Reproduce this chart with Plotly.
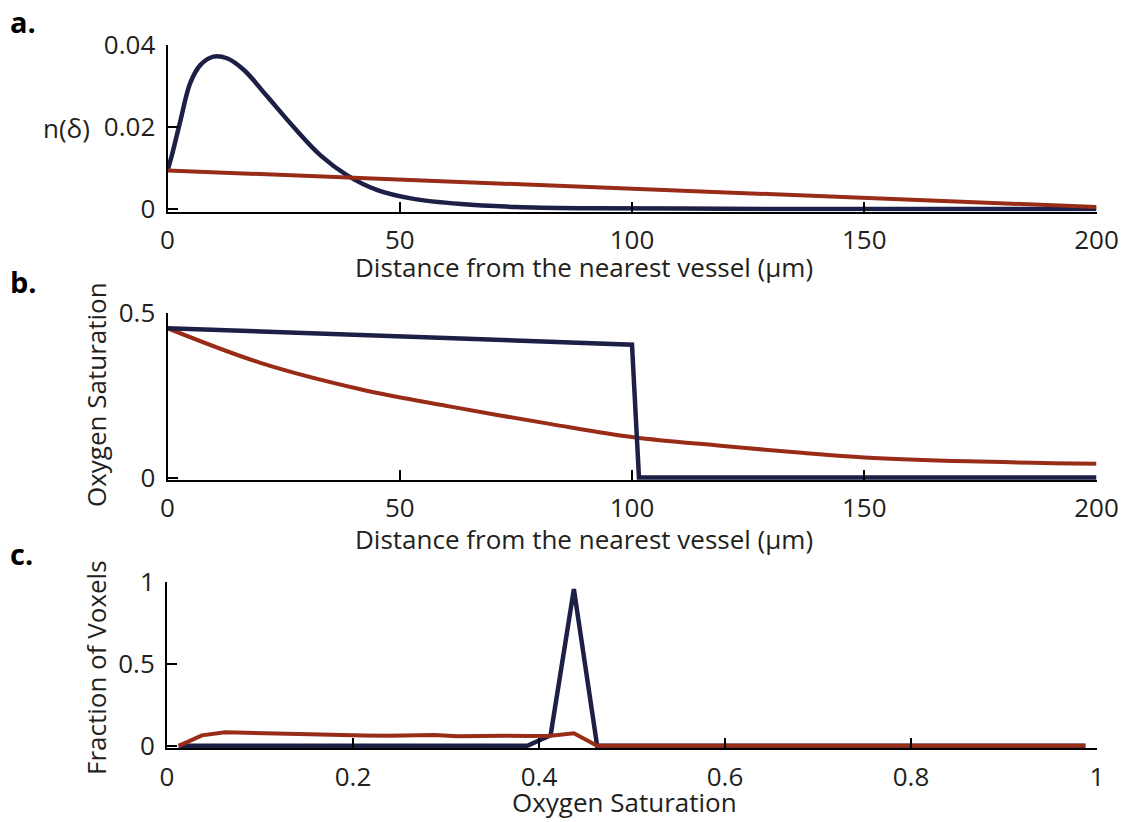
import plotly.graph_objects as go

# ---- panel a: distribution of distances to the nearest vessel ----
dist_a = [0, 0.8, 2.7, 4.9, 7.1, 9.9, 12.8, 16.4, 21.4, 27.2, 33.0, 38.7, 45.2,
          52.4, 63.2, 75, 90, 110, 140, 170, 200]
n_blue = [0.0094, 0.0125, 0.0211, 0.0307, 0.0351, 0.0371, 0.0367, 0.0339, 0.0275,
          0.0199, 0.0130, 0.0082, 0.0046, 0.0026, 0.0012, 0.0005, 0.0002, 0.0001,
          0.0, 0.0, 0.0]
dist_a_red = [0, 200]
n_red = [0.0094, 0.0005]

# ---- panel b: oxygen saturation vs distance ----
dist_b_blue = [0, 100, 101.5, 200]
so2_blue = [0.453, 0.403, 0.0, 0.0]
dist_b_red = [0, 20, 41.5, 61, 82.6, 100.4, 118.5, 136.5, 150, 172.5, 200]
so2_red = [0.453, 0.348, 0.268, 0.215, 0.162, 0.122, 0.097, 0.075, 0.061, 0.049, 0.042]

# ---- panel c: histogram of oxygen saturation (bin centres) ----
sat_bins = [0.0125, 0.0375, 0.0625, 0.0875, 0.1125, 0.1375, 0.1625, 0.1875,
            0.2125, 0.2375, 0.2625, 0.2875, 0.3125, 0.3375, 0.3625, 0.3875,
            0.4125, 0.4375, 0.4625, 0.4875, 0.5125, 0.5375, 0.5625, 0.5875,
            0.6125, 0.6375, 0.6625, 0.6875, 0.7125, 0.7375, 0.7625, 0.7875,
            0.8125, 0.8375, 0.8625, 0.8875, 0.9125, 0.9375, 0.9625, 0.9875]
frac_blue = [0, 0, 0, 0, 0, 0, 0, 0, 0, 0, 0, 0, 0, 0, 0, 0,
             0.065, 0.955, 0.0, 0, 0, 0, 0, 0, 0, 0, 0, 0, 0, 0, 0, 0,
             0, 0, 0, 0, 0, 0, 0, 0]
frac_red = [0.0, 0.064, 0.083, 0.080, 0.074, 0.068, 0.066, 0.064, 0.063, 0.062,
            0.064, 0.066, 0.058, 0.062, 0.062, 0.060, 0.062, 0.077, 0.0, 0,
            0, 0, 0, 0, 0, 0, 0, 0, 0, 0, 0, 0, 0, 0, 0, 0, 0, 0, 0, 0]

BLUE = "#1d1f47"
RED = "#982c17"
INK = "#231f20"
FONT = "Open Sans"
W, H = 1123, 822


def px(x):
    return x / W


def py(y):
    return 1 - y / H


fig = go.Figure()
fig.add_trace(go.Scatter(x=dist_a, y=n_blue, mode="lines",
                         line=dict(color=BLUE, width=4.5, shape="spline", smoothing=1.0),
                         xaxis="x", yaxis="y"))
fig.add_trace(go.Scatter(x=dist_a_red, y=n_red, mode="lines",
                         line=dict(color=RED, width=4), xaxis="x", yaxis="y"))

fig.add_trace(go.Scatter(x=dist_b_red, y=so2_red, mode="lines",
                         line=dict(color=RED, width=4, shape="spline", smoothing=1.0),
                         xaxis="x2", yaxis="y2"))
fig.add_trace(go.Scatter(x=dist_b_blue, y=so2_blue, mode="lines",
                         line=dict(color=BLUE, width=4.5), xaxis="x2", yaxis="y2"))

fig.add_trace(go.Scatter(x=sat_bins, y=frac_blue, mode="lines",
                         line=dict(color=BLUE, width=4.5), xaxis="x3", yaxis="y3"))
fig.add_trace(go.Scatter(x=sat_bins, y=frac_red, mode="lines",
                         line=dict(color=RED, width=4), xaxis="x3", yaxis="y3"))

tickfont = dict(family=FONT, size=26, color=INK)
axis_common = dict(showline=True, linecolor="black", linewidth=2, ticks="inside",
                   ticklen=10, tickwidth=1.5, tickcolor="black", showgrid=False,
                   zeroline=False, tickfont=tickfont, fixedrange=True,
                   automargin=False)
xaxis_extra = dict(ticklabelstandoff=4)
yaxis_extra = dict(ticklabelstandoff=5)

# pixel extents of the three plot areas
x_left, x_right = 167.5, 1096.5
panels = [(44.7, 211.5), (312.7, 480.0), (581.7, 748.3)]

layout = dict(
    template="none",
    width=W, height=H, margin=dict(l=0, r=0, t=0, b=0, autoexpand=False),
    paper_bgcolor="white", plot_bgcolor="white", showlegend=False,
    font=dict(family=FONT, color=INK),
)

# panel a
ya = panels[0]
layout["xaxis"] = dict(axis_common, **xaxis_extra, domain=[px(x_left), px(x_right)],
                       anchor="y", range=[0, 200], tickvals=[0, 50, 100, 150, 200])
layout["yaxis"] = dict(axis_common, **yaxis_extra, domain=[py(ya[1]), py(ya[0])],
                       anchor="x", range=[-0.0006, 0.04], tickvals=[0, 0.02, 0.04],
                       ticktext=["0", "0.02", "0.04"])
# panel b
yb = panels[1]
layout["xaxis2"] = dict(axis_common, **xaxis_extra, domain=[px(x_left), px(x_right)],
                        anchor="y2", range=[0, 200], tickvals=[0, 50, 100, 150, 200])
layout["yaxis2"] = dict(axis_common, **yaxis_extra, domain=[py(yb[1]), py(yb[0])],
                        anchor="x2", range=[-0.0075, 0.5], tickvals=[0, 0.5],
                        ticktext=["0", "0.5"])
# panel c
yc = panels[2]
layout["xaxis3"] = dict(axis_common, **xaxis_extra, domain=[px(167), px(1097)],
                        anchor="y3", range=[0, 1], tickvals=[0, 0.2, 0.4, 0.6, 0.8, 1],
                        ticktext=["0", "0.2", "0.4", "0.6", "0.8", "1"])
layout["yaxis3"] = dict(axis_common, **yaxis_extra, domain=[py(yc[1]), py(yc[0])],
                        anchor="x3", range=[-0.015, 1], tickvals=[0, 0.5, 1],
                        ticktext=["0", "0.5", "1"])

fig.update_layout(**layout)

textfont = dict(family=FONT, size=26, color=INK)
labelfont = dict(family=FONT, size=29, color="black", weight="bold")


def note(text, x, y, font, angle=0, xanchor="center"):
    fig.add_annotation(text=text, x=px(x), y=py(y), xref="paper", yref="paper",
                       showarrow=False, font=font, textangle=angle,
                       xanchor=xanchor, yanchor="middle")


note("Distance from the nearest vessel (\u03bcm)", 584, 267, textfont)
note("Distance from the nearest vessel (\u03bcm)", 584, 539, textfont)
note("Oxygen Saturation", 624, 802, textfont)
note("n(\u03b4)", 66, 128, textfont)
note("Oxygen Saturation", 96, 395, textfont, angle=-90)
note("Fraction of Voxels", 96, 668, textfont, angle=-90)
note("a.", 8, 21, labelfont, xanchor="left")
note("b.", 8, 281, labelfont, xanchor="left")
note("c.", 8, 553, labelfont, xanchor="left")

fig.write_html("out.html")
